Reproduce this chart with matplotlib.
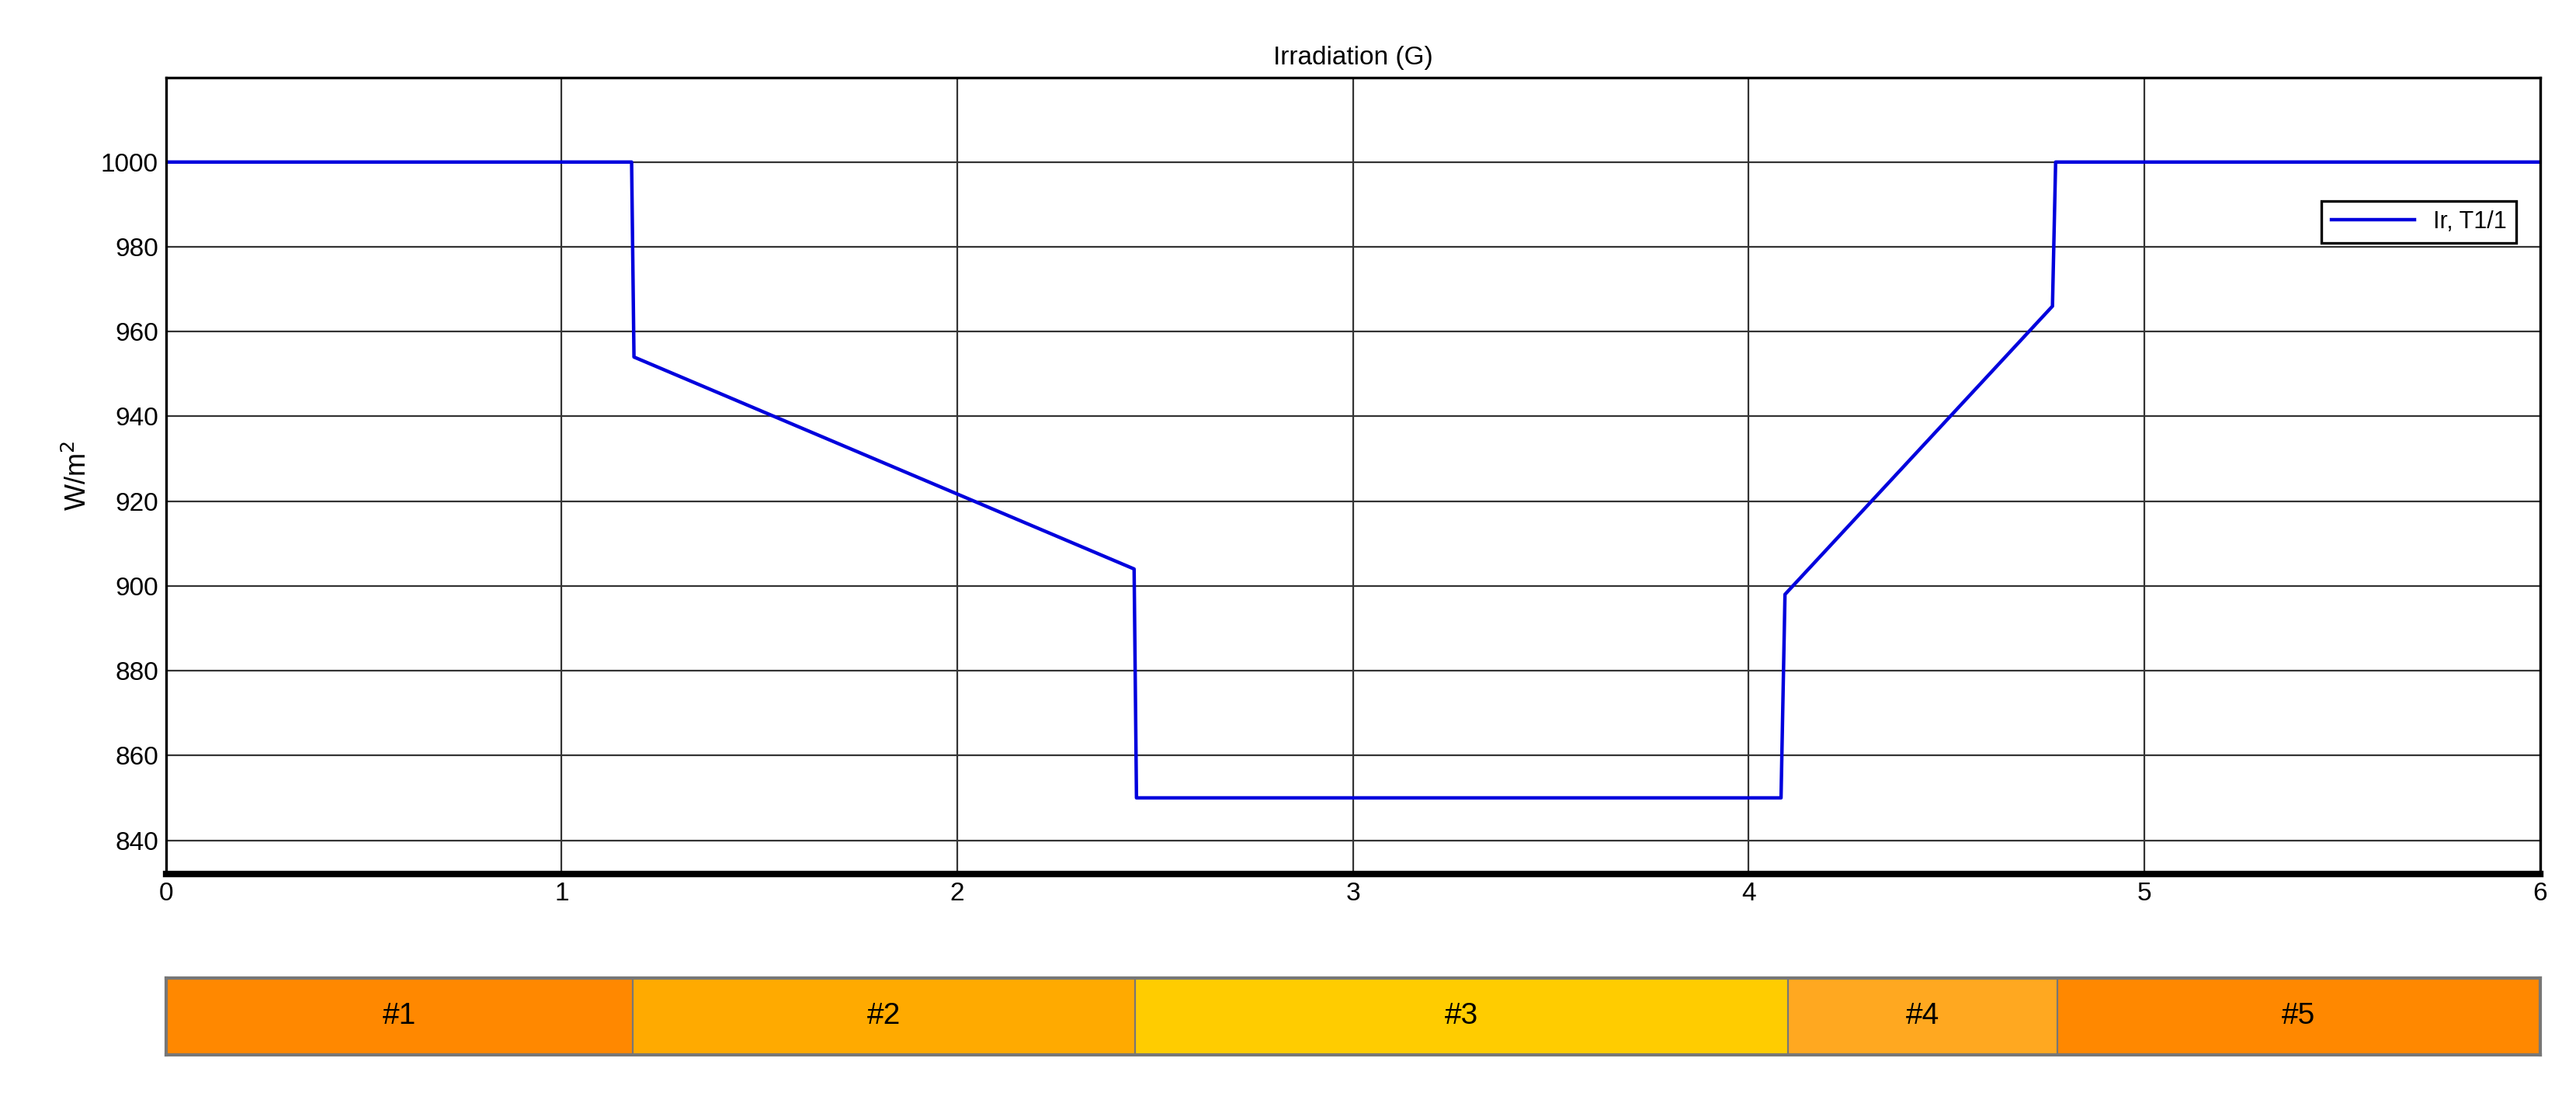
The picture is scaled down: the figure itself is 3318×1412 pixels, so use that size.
import matplotlib
matplotlib.use("Agg")
import matplotlib.pyplot as plt

t = [0, 1.177, 1.183, 2.447, 2.453, 4.082, 4.092, 4.768, 4.776, 6.0]
G = [1000, 1000, 954, 904, 850, 850, 898, 966, 1000, 1000]

seg_edges = [0, 1.18, 2.45, 4.10, 4.78, 6.0]
seg_labels = ["#1", "#2", "#3", "#4", "#5"]
seg_colors = ["#FF8800", "#FFAA00", "#FFCC00", "#FFA820", "#FF8800"]

plt.rcParams['font.family'] = ['Liberation Sans', 'DejaVu Sans']
fig = plt.figure(figsize=(16.59, 7.06), dpi=200)
ax = fig.add_axes([0.0644, 0.2024, 0.9216, 0.7271])
ax.plot(t, G, color="#0000DD", lw=1.6, label="Ir, T1/1")
ax.set_xlim(0, 6)
ax.set_ylim(832, 1020)
ax.set_yticks(range(840, 1001, 20))
ax.set_xticks(range(0, 7))
ax.grid(True, color="#333333", lw=0.8)
ax.tick_params(labelsize=12, direction='in', length=0)
ax.set_title("Irradiation (G)", fontsize=12)
ax.set_ylabel("W/m$^2$", fontsize=13)
for s in ax.spines.values():
    s.set_linewidth(1.2)
ax.spines['bottom'].set_linewidth(3)
leg = ax.legend(loc="upper right", bbox_to_anchor=(0.995, 0.86), fontsize=11,
                fancybox=False, edgecolor="black", framealpha=1, handlelength=3.5)
leg.get_frame().set_linewidth(1.2)

bx = fig.add_axes([0.0644, 0.0375, 0.9216, 0.0705])
for i in range(len(seg_labels)):
    x0, x1 = seg_edges[i], seg_edges[i + 1]
    bx.axvspan(x0, x1, color=seg_colors[i], lw=0)
    bx.text((x0 + x1) / 2, 0.5, seg_labels[i], ha="center", va="center", fontsize=14)
for e in seg_edges[1:-1]:
    bx.axvline(e, color="#777777", lw=0.8)
bx.set_xlim(0, 6)
bx.set_ylim(0, 1)
bx.set_xticks([]); bx.set_yticks([])
for s in bx.spines.values():
    s.set_color("#777777")
    s.set_linewidth(1.5)

fig.savefig("out.png")
